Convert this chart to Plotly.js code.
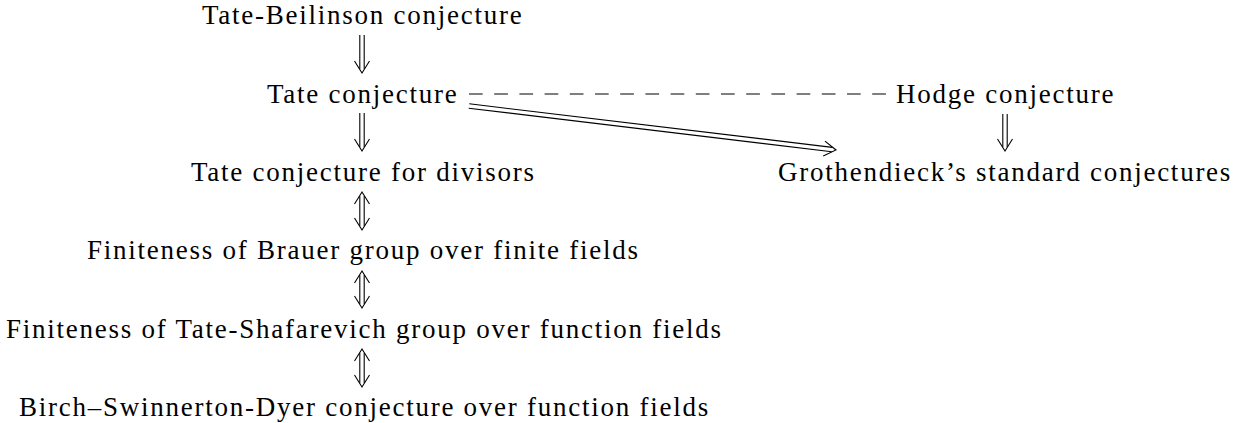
<!DOCTYPE html>
<html>
<head>
<meta charset="utf-8">
<script src="https://cdn.plot.ly/plotly-3.0.1.min.js"></script>
<style>
html,body{margin:0;padding:0;background:#fff;}
#chart{width:1236px;height:423px;}
text.annotation-text{letter-spacing:1.75px;}
</style>
</head>
<body>
<div id="chart"></div>
<script>
// Diagram nodes
const nodeLabels = [
  "Tate-Beilinson conjecture",
  "Tate conjecture",
  "Hodge conjecture",
  "Tate conjecture for divisors",
  "Grothendieck’s standard conjectures",
  "Finiteness of Brauer group over finite fields",
  "Finiteness of Tate-Shafarevich group over function fields",
  "Birch–Swinnerton-Dyer conjecture over function fields"
];
const nodeX = [363, 363, 1005, 363, 1005, 363, 364, 364];
const nodeY = [15, 94, 94, 172, 172, 250, 329, 407];

// Diagram edges (start -> end) and kind
const edgeX0 = [362, 362, 362, 362, 362, 1005, 469, 469];
const edgeY0 = [35, 113, 192, 271, 349, 114, 94, 106];
const edgeX1 = [362, 362, 362, 362, 362, 1005, 886, 836];
const edgeY1 = [73, 151, 230, 308, 387, 151, 94, 150];
const edgeKind = ["implies", "implies", "iff", "iff", "iff", "implies", "dashed", "implies"];

const GAP = 2.2;    // half distance between the two strokes
const HEAD_L = 12;  // arrowhead length
const HEAD_W = 7.5; // arrowhead half-width

const dblX = [], dblY = [], headX = [], headY = [], dashX = [], dashY = [];

function chevron(tx, ty, ux, uy, px, py) {
  headX.push(tx - ux * HEAD_L + px * HEAD_W, tx, tx - ux * HEAD_L - px * HEAD_W, null);
  headY.push(ty - uy * HEAD_L + py * HEAD_W, ty, ty - uy * HEAD_L - py * HEAD_W, null);
}

for (let i = 0; i < edgeKind.length; i++) {
  const x0 = edgeX0[i], y0 = edgeY0[i], x1 = edgeX1[i], y1 = edgeY1[i];
  if (edgeKind[i] === "dashed") {
    dashX.push(x0, x1, null); dashY.push(y0, y1, null);
    continue;
  }
  const len = Math.hypot(x1 - x0, y1 - y0);
  const ux = (x1 - x0) / len, uy = (y1 - y0) / len;
  const px = -uy, py = ux;
  const back = HEAD_L * GAP / HEAD_W + 0.5;
  const sx = edgeKind[i] === "iff" ? x0 + ux * back : x0;
  const sy = edgeKind[i] === "iff" ? y0 + uy * back : y0;
  const ex = x1 - ux * back, ey = y1 - uy * back;
  for (const s of [-1, 1]) {
    dblX.push(sx + px * GAP * s, ex + px * GAP * s, null);
    dblY.push(sy + py * GAP * s, ey + py * GAP * s, null);
  }
  chevron(x1, y1, ux, uy, px, py);
  if (edgeKind[i] === "iff") chevron(x0, y0, -ux, -uy, px, py);
}

const lineStyle = {color: "#000", width: 1.1};
const traces = [
  {x: dblX, y: dblY, mode: "lines", line: lineStyle, hoverinfo: "skip", showlegend: false},
  {x: headX, y: headY, mode: "lines", line: lineStyle, hoverinfo: "skip", showlegend: false},
  {x: dashX, y: dashY, mode: "lines", line: {color: "#000", width: 1.1, dash: "13.7px,11.5px"}, hoverinfo: "skip", showlegend: false}
];

const annotations = nodeLabels.map((t, i) => ({
  x: nodeX[i], y: nodeY[i], xref: "x", yref: "y", text: t, showarrow: false,
  xanchor: "center", yanchor: "middle",
  font: {family: "Liberation Serif, Times New Roman, serif", size: 27, color: "#000"}
}));

const layout = {
  width: 1236, height: 423,
  margin: {l: 0, r: 0, t: 0, b: 0},
  paper_bgcolor: "#fff", plot_bgcolor: "#fff",
  xaxis: {range: [0, 1236], visible: false, fixedrange: true},
  yaxis: {range: [423, 0], visible: false, fixedrange: true},
  annotations: annotations,
  showlegend: false
};

Plotly.newPlot("chart", traces, layout, {staticPlot: true, displayModeBar: false});
</script>
</body>
</html>
